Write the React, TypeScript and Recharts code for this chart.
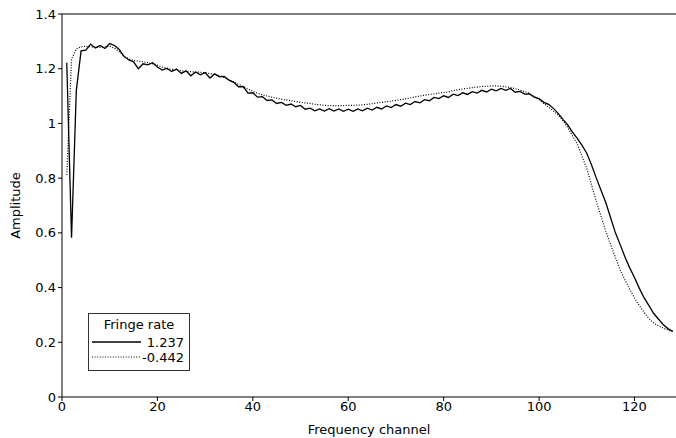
import React from 'react';
import {
  LineChart,
  Line,
  XAxis,
  YAxis,
  ReferenceLine,
} from 'recharts';

// amplitude per frequency channel (1..128), one array per fringe rate
const channels: number[] = Array.from({ length: 128 }, (_, i) => i + 1);

const ampPos: number[] = [
  1.222, 0.582, 1.12, 1.265, 1.268, 1.29, 1.276, 1.285, 1.274, 1.292,
  1.285, 1.27, 1.245, 1.232, 1.225, 1.2, 1.218, 1.214, 1.222, 1.206,
  1.195, 1.201, 1.19, 1.199, 1.183, 1.192, 1.174, 1.188, 1.178, 1.186,
  1.166, 1.181, 1.17, 1.172, 1.158, 1.15, 1.134, 1.134, 1.111, 1.112,
  1.096, 1.098, 1.084, 1.086, 1.073, 1.077, 1.066, 1.071, 1.061, 1.066,
  1.052, 1.056, 1.046, 1.053, 1.045, 1.054, 1.045, 1.053, 1.044, 1.052,
  1.044, 1.053, 1.046, 1.056, 1.049, 1.059, 1.053, 1.064, 1.058, 1.069,
  1.063, 1.074, 1.069, 1.08, 1.075, 1.087, 1.083, 1.095, 1.091, 1.101,
  1.095, 1.107, 1.102, 1.112, 1.106, 1.116, 1.111, 1.121, 1.115, 1.125,
  1.119, 1.128, 1.121, 1.128, 1.114, 1.117, 1.107, 1.108, 1.096, 1.091,
  1.077, 1.07, 1.055, 1.037, 1.015, 0.995, 0.968, 0.945, 0.92, 0.891,
  0.848, 0.8, 0.755, 0.71, 0.655, 0.6, 0.557, 0.512, 0.472, 0.437,
  0.398, 0.363, 0.335, 0.306, 0.285, 0.265, 0.25, 0.24,
];

const ampNeg: number[] = [
  0.812, 1.235, 1.272, 1.28, 1.282, 1.28, 1.278, 1.278, 1.28, 1.282,
  1.275, 1.262, 1.245, 1.236, 1.23, 1.228, 1.225, 1.222, 1.218, 1.213,
  1.206, 1.202, 1.198, 1.195, 1.193, 1.19, 1.189, 1.188, 1.187, 1.185,
  1.182, 1.179, 1.175, 1.168, 1.16, 1.152, 1.143, 1.135, 1.125, 1.118,
  1.11, 1.105, 1.1, 1.096, 1.092, 1.089, 1.086, 1.083, 1.08, 1.077,
  1.075, 1.073, 1.07, 1.068, 1.066, 1.065, 1.065, 1.065, 1.065, 1.066,
  1.066, 1.067, 1.068, 1.07, 1.072, 1.075, 1.077, 1.079, 1.082, 1.084,
  1.087, 1.09, 1.093, 1.097, 1.1, 1.103, 1.106, 1.108, 1.111, 1.113,
  1.115, 1.12, 1.123, 1.126, 1.128, 1.131, 1.133, 1.135, 1.136, 1.137,
  1.137, 1.136, 1.134, 1.131, 1.127, 1.122, 1.116, 1.11, 1.098, 1.086,
  1.072, 1.06, 1.045, 1.03, 1.01, 0.985, 0.955, 0.925, 0.88, 0.835,
  0.775, 0.715, 0.66, 0.605, 0.557, 0.51, 0.464, 0.428, 0.394, 0.362,
  0.335, 0.31, 0.287, 0.27, 0.26, 0.252, 0.245, 0.24,
];

const seriesNames = ['1.237', '-0.442'];
const xTicks = [0, 20, 40, 60, 80, 100, 120];
const yTicks = [0, 0.2, 0.4, 0.6, 0.8, 1, 1.2, 1.4];

const data = channels.map((ch, i) => ({ ch, a: ampPos[i], b: ampNeg[i] }));

const font = 'DejaVu Sans, sans-serif';
const fs = 13;

// y label centred on the axis (recharts' insideLeft anchors at start)
const YLabel = (props: any) => {
  const vb = props.viewBox || {};
  const cx = 15;
  const cy = vb.y + vb.height / 2;
  return (
    <text
      x={cx}
      y={cy}
      transform={`rotate(-90 ${cx} ${cy})`}
      textAnchor="middle"
      dominantBaseline="central"
      fontSize={fs}
      fontFamily={font}
      fill="#000"
    >
      Amplitude
    </text>
  );
};

// legend box drawn over the plot, like the original's inset legend
const FringeLegend = () => (
  <div
    style={{
      position: 'absolute',
      left: 88,
      top: 313,
      width: 100,
      height: 56,
      border: '1px solid #333',
      background: '#fff',
      fontFamily: font,
      fontSize: fs,
      color: '#000',
    }}
  >
    <div style={{ textAlign: 'center', marginTop: 3, lineHeight: '16px' }}>Fringe rate</div>
    <svg width={100} height={36} style={{ display: 'block' }}>
      <line x1={3} x2={52} y1={9} y2={9} stroke="#000" strokeWidth={1.3} />
      <text x={95} y={14} textAnchor="end" fontSize={fs} fontFamily={font}>{seriesNames[0]}</text>
      <line x1={3} x2={52} y1={24} y2={24} stroke="#000" strokeWidth={1.2} strokeDasharray="1 1.6" />
      <text x={95} y={29} textAnchor="end" fontSize={fs} fontFamily={font}>{seriesNames[1]}</text>
    </svg>
  </div>
);

export default function App() {
  return (
    <div style={{ position: 'absolute', left: 0, top: 0, width: 676, height: 438, background: '#fff' }}>
      <LineChart
        width={676}
        height={438}
        data={data}
        margin={{ top: 14, right: 0, left: 0, bottom: 0 }}
      >
        <XAxis
          dataKey="ch"
          type="number"
          domain={[0, 128.7]}
          ticks={xTicks}
          allowDataOverflow
          height={41}
          tickSize={4}
          tickMargin={1}
          stroke="#000"
          tick={{ fill: '#000', fontSize: fs, fontFamily: font }}
          label={{ value: 'Frequency channel', position: 'insideBottom', offset: 4, fill: '#000', fontSize: fs, fontFamily: font }}
        />
        <YAxis
          type="number"
          domain={[0, 1.4]}
          ticks={yTicks}
          width={62}
          tickSize={4}
          tickMargin={2}
          stroke="#000"
          tick={{ fill: '#000', fontSize: fs, fontFamily: font }}
          label={<YLabel />}
        />
        <ReferenceLine y={1.4} stroke="#000" strokeWidth={1} />
        <Line
          dataKey="a"
          name={seriesNames[0]}
          stroke="#000"
          strokeWidth={1.3}
          dot={false}
          type="linear"
          isAnimationActive={false}
        />
        <Line
          dataKey="b"
          name={seriesNames[1]}
          stroke="#000"
          strokeWidth={1.2}
          strokeDasharray="1 1.6"
          dot={false}
          type="linear"
          isAnimationActive={false}
        />
      </LineChart>
      <FringeLegend />
    </div>
  );
}
